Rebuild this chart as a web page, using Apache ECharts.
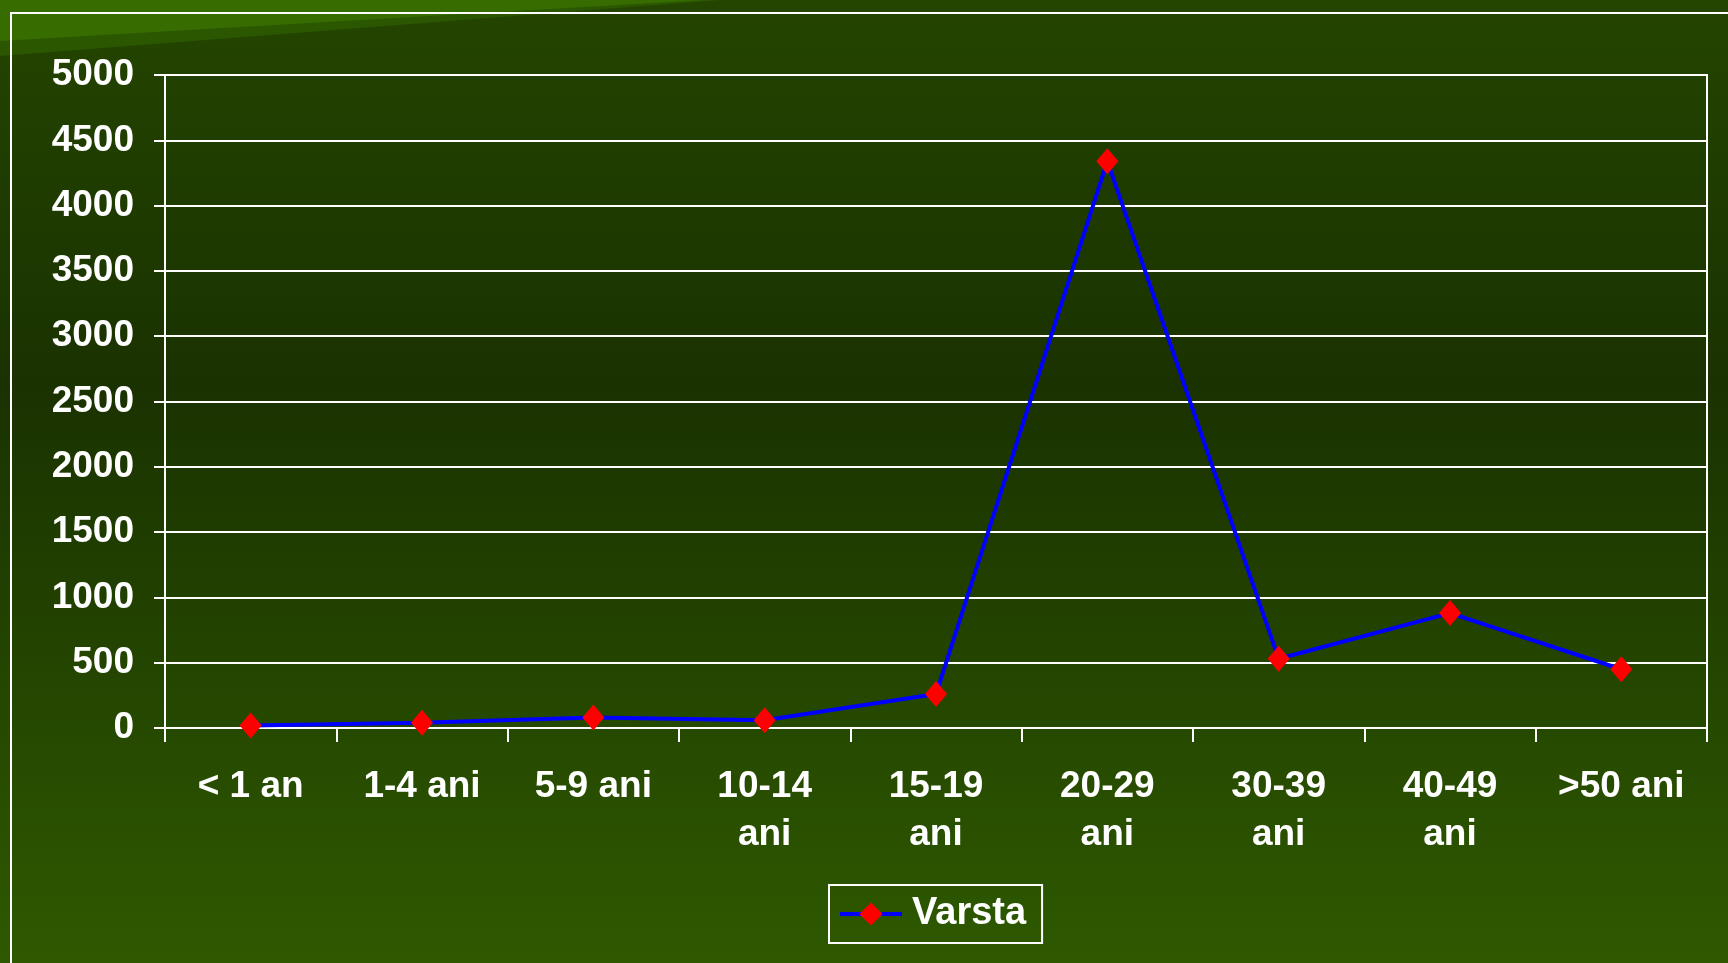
<!DOCTYPE html>
<html>
<head>
<meta charset="utf-8">
<title>Varsta</title>
<script src="https://cdn.jsdelivr.net/npm/echarts@6/dist/echarts.min.js"></script>
<style>
  html, body { margin: 0; padding: 0; }
  #chart { width: 1728px; height: 963px; }
</style>
</head>
<body>
<div id="chart"></div>
<script>
// categorii de varsta
var categories = ['< 1 an', '1-4 ani', '5-9 ani', '10-14 ani', '15-19 ani', '20-29 ani', '30-39 ani', '40-49 ani', '>50 ani'];
// valori
var varsta = [20, 40, 80, 60, 260, 4340, 530, 880, 450];
var yMin = 0;
var yMax = 5000;
var yStep = 500;

var font = '"Liberation Sans", Arial, sans-serif';

var myChart = echarts.init(document.getElementById('chart'));

var option = {
    backgroundColor: new echarts.graphic.LinearGradient(0, 0, 0, 1, [
        { offset: 0, color: '#244500' },
        { offset: 0.4, color: '#1a3200' },
        { offset: 1, color: '#2e5900' }
    ]),
    animation: false,
    textStyle: { fontFamily: font },
    graphic: [
        // colt stanga sus, benzi mai deschise
        { type: 'polygon', z: -1, shape: { points: [[0, 0], [720, 0], [0, 56]] }, style: { fill: '#2b5700' } },
        { type: 'polygon', z: -1, shape: { points: [[0, 0], [705, 0], [0, 41]] }, style: { fill: '#376c00' } },
        // chenar alb exterior
        { type: 'rect', z: 0, shape: { x: 11, y: 13, width: 1740, height: 980 }, style: { fill: 'none', stroke: '#fff', lineWidth: 2 } }
    ],
    grid: {
        left: 165,
        right: 21,
        top: 75,
        bottom: 235,
        show: true,
        borderColor: '#fff',
        borderWidth: 2,
        backgroundColor: 'transparent'
    },
    legend: {
        left: 829,
        top: 885,
        data: ['Varsta'],
        itemWidth: 62,
        itemHeight: 29,
        borderColor: '#fff',
        borderWidth: 2,
        padding: [9, 16, 9, 9],
        lineStyle: { width: 4 },
        textStyle: {
            color: '#fff',
            fontSize: 38,
            fontWeight: 'bold',
            lineHeight: 40,
            padding: [0, 0, 0, 5]
        }
    },
    xAxis: {
        type: 'category',
        data: categories,
        boundaryGap: true,
        axisLine: { lineStyle: { color: '#fff', width: 2 } },
        axisTick: { show: true, length: 14, lineStyle: { color: '#fff', width: 2 } },
        axisLabel: {
            color: '#fff',
            fontSize: 37,
            fontWeight: 'bold',
            lineHeight: 48,
            margin: 35,
            interval: 0,
            formatter: function (name) {
                return name.length > 7 ? name.replace(' ', '\n') : name;
            }
        }
    },
    yAxis: {
        type: 'value',
        min: yMin,
        max: yMax,
        interval: yStep,
        axisLine: { show: true, lineStyle: { color: '#fff', width: 2 } },
        axisTick: { show: true, length: 11, lineStyle: { color: '#fff', width: 2 } },
        axisLabel: {
            color: '#fff',
            fontSize: 37,
            fontWeight: 'bold',
            margin: 31,
            padding: [8, 0, 0, 0],
            formatter: function (v) { return String(v); }
        },
        splitLine: { show: true, lineStyle: { color: '#fff', width: 2 } }
    },
    series: [
        {
            name: 'Varsta',
            type: 'line',
            data: varsta,
            symbol: 'diamond',
            symbolSize: [22, 26],
            lineStyle: { color: '#0000ff', width: 4 },
            itemStyle: { color: '#ff0000' },
            z: 5
        }
    ]
};

myChart.setOption(option);
</script>
</body>
</html>
